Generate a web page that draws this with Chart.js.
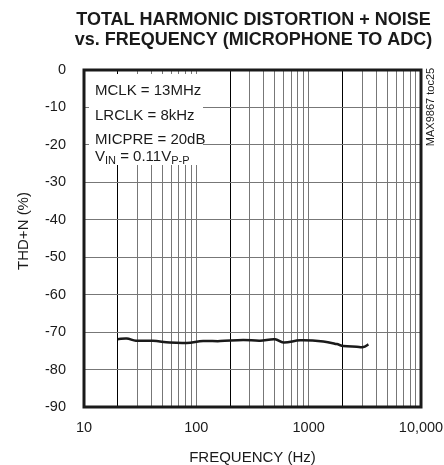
<!DOCTYPE html>
<html>
<head>
<meta charset="utf-8">
<script src="https://cdn.jsdelivr.net/npm/chart.js@4.4.1/dist/chart.umd.min.js"></script>
<style>
  html, body { margin: 0; padding: 0; background: #fff; }
</style>
</head>
<body>
<canvas id="thdChart" width="444" height="465"></canvas>
<script>
// THD+N vs frequency
const freqHz = [20, 24, 29, 41, 58, 82, 115, 163, 261, 369, 502, 596, 838, 1352, 1778, 2037, 2680, 3069, 3404];
const thdN = [-71.9, -71.7, -72.3, -72.3, -72.8, -72.9, -72.4, -72.4, -72.1, -72.3, -71.9, -72.8, -72.2, -72.5, -73.2, -73.7, -73.9, -74.0, -73.3];

const xGridHz = [10, 20, 30, 40, 50, 60, 70, 80, 90,
                 100, 200, 300, 400, 500, 600, 700, 800, 900,
                 1000, 2000, 3000, 4000, 5000, 6000, 7000, 8000, 9000, 10000];
const darkGridHz = [20, 200, 2000];
const xLabelHz = [10, 100, 1000, 10000];
const xLabelText = ['10', '100', '1000', '10,000'];
const yMin = -90, yMax = 0, yStep = 10;

const titleLines = ['TOTAL HARMONIC DISTORTION + NOISE', 'vs. FREQUENCY (MICROPHONE TO ADC)'];
const xTitle = 'FREQUENCY (Hz)';
const yTitle = 'THD+N (%)';
const sideTag = 'MAX9867 toc25';
// each note line is a list of [text, isSubscript]
const noteLines = [
  [['MCLK = 13MHz', false]],
  [['LRCLK = 8kHz', false]],
  [['MICPRE = 20dB', false]],
  [['V', false], ['IN', true], [' = 0.11V', false], ['P-P', true]]
];

const FONT = "'Liberation Sans', Arial, sans-serif";
const INK = '#1a1a1a';
const GRID = '#777';

const decorations = {
  id: 'decorations',
  beforeDatasetsDraw(chart) {
    const ctx = chart.ctx;
    ctx.save();
    // white panel behind the conditions text hides the grid
    ctx.fillStyle = '#fff';
    ctx.fillRect(89, 74, 114, 91);
    ctx.fillStyle = INK;
    ctx.textBaseline = 'alphabetic';
    ctx.textAlign = 'left';
    const baselines = [95, 120, 144, 161];
    noteLines.forEach((segs, i) => {
      let x = 95;
      segs.forEach(([txt, sub]) => {
        ctx.font = (sub ? '11px ' : '15px ') + FONT;
        ctx.fillText(txt, x, baselines[i] + (sub ? 3 : 0));
        x += ctx.measureText(txt).width;
      });
    });
    ctx.restore();
  },
  afterDatasetsDraw(chart) {
    const { ctx, chartArea: a } = chart;
    ctx.save();
    ctx.strokeStyle = INK;
    ctx.lineWidth = 3;
    ctx.strokeRect(a.left, a.top, a.right - a.left, a.bottom - a.top);
    ctx.restore();
  },
  afterDraw(chart) {
    const { ctx, chartArea: a } = chart;
    const cx = (a.left + a.right) / 2;
    ctx.save();
    ctx.fillStyle = INK;
    ctx.textAlign = 'center';
    ctx.textBaseline = 'alphabetic';
    ctx.font = 'bold 18px ' + FONT;
    ctx.fillText(titleLines[0], cx + 1, 25);
    ctx.fillText(titleLines[1], cx + 1, 45);

    ctx.font = '15px ' + FONT;
    ctx.fillText(xTitle, cx, 462);

    ctx.save();
    ctx.translate(28, 231);
    ctx.rotate(-Math.PI / 2);
    ctx.fillText(yTitle, 0, 0);
    ctx.restore();

    ctx.save();
    ctx.translate(434, 107);
    ctx.rotate(-Math.PI / 2);
    ctx.font = '11px ' + FONT;
    ctx.fillText(sideTag, 0, 0);
    ctx.restore();
    ctx.restore();
  }
};

new Chart(document.getElementById('thdChart'), {
  type: 'line',
  data: {
    datasets: [{
      data: freqHz.map((f, i) => ({ x: f, y: thdN[i] })),
      borderColor: INK,
      borderWidth: 2.5,
      pointRadius: 0,
      fill: false,
      tension: 0.35
    }]
  },
  options: {
    responsive: false,
    animation: false,
    devicePixelRatio: 1,
    layout: { padding: { left: 0, right: 23, top: 70, bottom: 0 } },
    plugins: { legend: { display: false }, tooltip: { enabled: false }, title: { display: false } },
    scales: {
      x: {
        type: 'logarithmic',
        min: 10, max: 10000,
        afterBuildTicks: s => { s.ticks = xGridHz.map(v => ({ value: v })); },
        afterFit: s => { s.height = 58; s.paddingLeft = 0; s.paddingRight = 0; },
        ticks: {
          autoSkip: false, maxRotation: 0, padding: 12,
          color: INK, font: { family: FONT, size: 14.5 },
          callback: v => { const i = xLabelHz.indexOf(v); return i >= 0 ? xLabelText[i] : ''; }
        },
        grid: {
          drawTicks: false, lineWidth: 1,
          color: c => (c.tick && darkGridHz.includes(c.tick.value)) ? '#000' : GRID
        },
        border: { display: false }
      },
      y: {
        min: yMin, max: yMax,
        afterFit: s => { s.width = 84; s.paddingTop = 0; s.paddingBottom = 0; },
        ticks: {
          stepSize: yStep, padding: 18,
          color: INK, font: { family: FONT, size: 14.5 },
          callback: v => String(v)
        },
        grid: { drawTicks: false, lineWidth: 1, color: GRID },
        border: { display: false }
      }
    }
  },
  plugins: [decorations]
});
</script>
</body>
</html>
